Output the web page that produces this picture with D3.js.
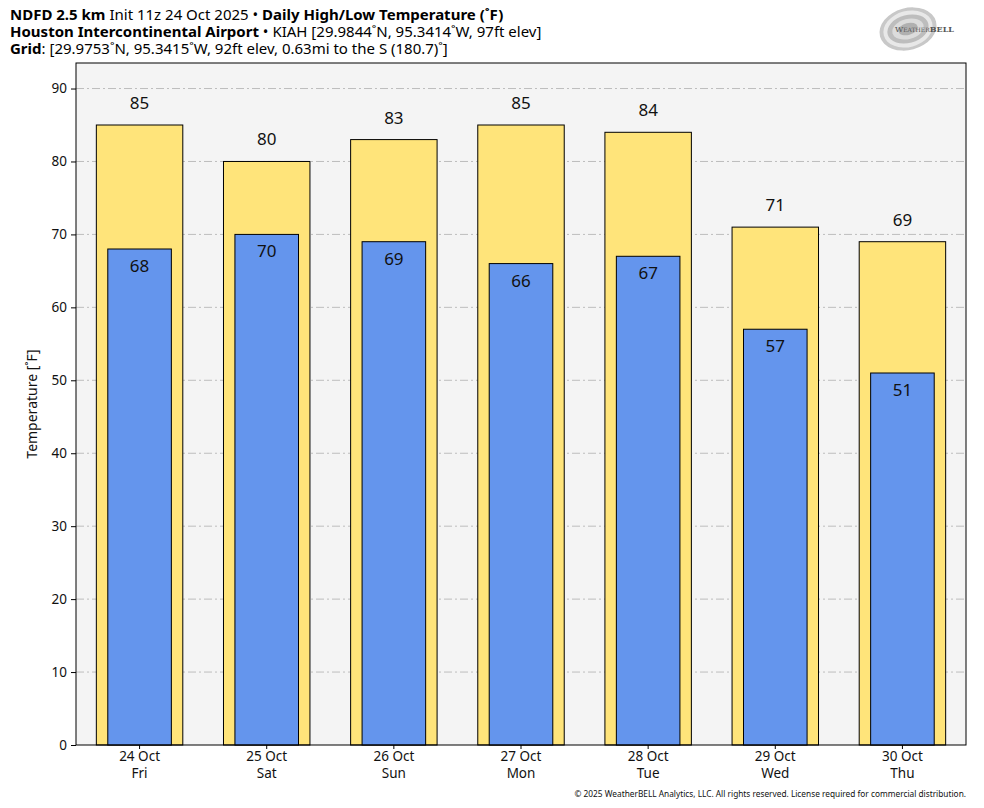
<!DOCTYPE html>
<html><head><meta charset="utf-8">
<script src="https://cdn.jsdelivr.net/npm/d3@7"></script>
<style>body{margin:0;background:#fff;} svg{display:block;font-family:"Noto Sans",sans-serif;}</style>
</head><body>
<script>
const dates = ["24 Oct","25 Oct","26 Oct","27 Oct","28 Oct","29 Oct","30 Oct"];
const days = ["Fri","Sat","Sun","Mon","Tue","Wed","Thu"];
const highs = [85,80,83,85,84,71,69];
const lows = [68,70,69,66,67,57,51];
const yTicks = [0,10,20,30,40,50,60,70,80,90];

const W=984,H=808;
const m={l:76,r:18,t:63,b:63};
const svg=d3.select("body").append("svg").attr("width",W).attr("height",H);
const pw=W-m.l-m.r, ph=H-m.t-m.b;
const g=svg.append("g").attr("transform",`translate(${m.l},${m.t})`);
const x=d3.scaleBand().domain(dates).range([0,pw]);
const y=d3.scaleLinear().domain([0,d3.max(highs)*1.1]).range([ph,0]);

g.append("rect").attr("width",pw).attr("height",ph).attr("fill","#f4f4f4");
g.selectAll(".grid").data(yTicks.filter(d=>d>0)).join("line")
 .attr("x1",0).attr("x2",pw).attr("y1",d=>y(d)).attr("y2",d=>y(d))
 .attr("stroke","#bdbdbd").attr("stroke-width",1).attr("stroke-dasharray","8,3,2,3");

const bw=x.bandwidth();
const hw=bw*0.68, lw=bw*0.5;
g.selectAll(".hi").data(highs).join("rect")
 .attr("x",(d,i)=>x(dates[i])+(bw-hw)/2).attr("width",hw)
 .attr("y",d=>y(d)).attr("height",d=>ph-y(d))
 .attr("fill","#ffe47a").attr("stroke","#000").attr("stroke-width",1);
g.selectAll(".lo").data(lows).join("rect")
 .attr("x",(d,i)=>x(dates[i])+(bw-lw)/2).attr("width",lw)
 .attr("y",d=>y(d)).attr("height",d=>ph-y(d))
 .attr("fill","#6495ed").attr("stroke","#000").attr("stroke-width",1);
g.selectAll(".hl").data(highs).join("text")
 .attr("x",(d,i)=>x(dates[i])+bw/2).attr("y",d=>y(d)-16)
 .attr("text-anchor","middle").attr("font-size",17).attr("fill","#111").text(d=>d);
g.selectAll(".ll").data(lows).join("text")
 .attr("x",(d,i)=>x(dates[i])+bw/2).attr("y",d=>y(d)+23)
 .attr("text-anchor","middle").attr("font-size",17).attr("fill","#111").text(d=>d);

g.append("rect").attr("width",pw).attr("height",ph).attr("fill","none").attr("stroke","#000").attr("stroke-width",1);

const ya=g.append("g").call(d3.axisLeft(y).tickValues(yTicks).tickSize(5).tickSizeOuter(0).tickPadding(4));
ya.select(".domain").remove();
ya.selectAll("text").attr("font-size",13.5).attr("fill","#111").attr("font-family","Noto Sans");
const xa=g.append("g").attr("transform",`translate(0,${ph})`).call(d3.axisBottom(x).tickSize(4).tickSizeOuter(0));
xa.select(".domain").remove();
xa.selectAll("text").remove();
xa.selectAll(".tick").each(function(d,i){
  const t=d3.select(this).append("text").attr("fill","#111").attr("font-size",13.5).attr("text-anchor","middle").attr("font-family","Noto Sans");
  t.append("tspan").attr("x",0).attr("y",16).text(d);
  t.append("tspan").attr("x",0).attr("y",33).text(days[i]);
});

svg.append("text").attr("transform",`translate(37,${m.t+ph/2}) rotate(-90)`)
 .attr("text-anchor","middle").attr("font-size",14).attr("fill","#111").text("Temperature [˚F]");

const tl=["<tspan font-weight='bold'>NDFD 2.5 km</tspan> Init 11z 24 Oct 2025 • <tspan font-weight='bold'>Daily High/Low Temperature (˚F)</tspan>",
 "<tspan font-weight='bold'>Houston Intercontinental Airport</tspan> • KIAH [29.9844˚N, 95.3414˚W, 97ft elev]",
 "<tspan font-weight='bold'>Grid</tspan>: [29.9753˚N, 95.3415˚W, 92ft elev, 0.63mi to the S (180.7)˚]"];
tl.forEach((ln,i)=>{
  svg.append("text").attr("x",10).attr("y",20+i*17).attr("font-size",15).attr("fill","#000").html(ln);
});

svg.append("text").attr("x",966).attr("y",797).attr("text-anchor","end").attr("font-size",8.3).attr("fill","#111")
 .text("© 2025 WeatherBELL Analytics, LLC. All rights reserved. License required for commercial distribution.");

// logo
const lg=svg.append("g").attr("transform","translate(908,29)");
[[29,21,"#c8c8c8"],[25,18,"#e8e8e8"],[21,14,"#bdbdbd"],[16,10,"#dcdcdc"],[10,6,"#b0b0b0"]].forEach(e=>{
  lg.append("ellipse").attr("rx",e[0]).attr("ry",e[1]).attr("fill",e[2]).attr("transform","rotate(-15)");
});
lg.append("text").attr("x",-13).attr("y",3).attr("font-size",8).attr("font-family","DejaVu Serif").attr("fill","#555")
  .html("W<tspan font-size='6'>EATHER</tspan><tspan font-weight='bold' font-size='8'>BELL</tspan>");
</script>
</body></html>
